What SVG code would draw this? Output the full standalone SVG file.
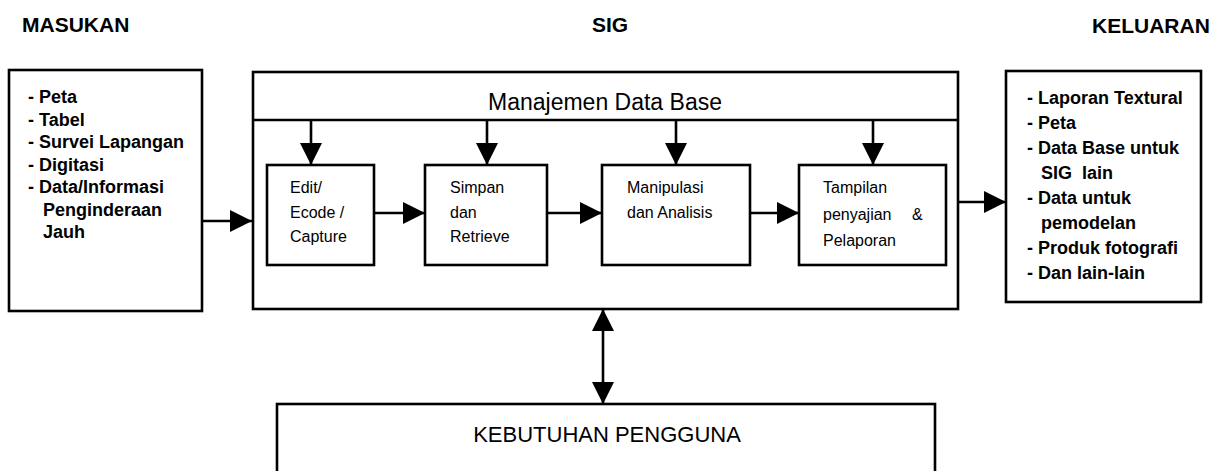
<svg xmlns="http://www.w3.org/2000/svg" width="1226" height="471" viewBox="0 0 1226 471">
<style>
.box{fill:#fff;stroke:#000;stroke-width:2.6}
.ln{stroke:#000;stroke-width:2.6;fill:none}
.head{font-family:"Liberation Sans",Arial,sans-serif;font-weight:bold;font-size:21px;fill:#000}
.list{font-family:"Liberation Sans",Arial,sans-serif;font-weight:bold;font-size:18px;fill:#000}
.inner{font-family:"Liberation Sans",Arial,sans-serif;font-size:16px;fill:#000}
.big{font-family:"Liberation Sans",Arial,sans-serif;font-size:23px;fill:#000}
.kb{font-family:"Liberation Sans",Arial,sans-serif;font-size:22px;fill:#000}
.ah{fill:#000}
</style>
<defs>
<marker id="arr" viewBox="0 0 22 22" refX="22" refY="11" markerWidth="22" markerHeight="22" markerUnits="userSpaceOnUse" orient="auto-start-reverse">
<path d="M0,0 L22,11 L0,22 z" class="ah"/>
</marker>
</defs>
<rect width="1226" height="471" fill="#fff"/>

<g id="headings">
<text class="head" x="22" y="32">MASUKAN</text>
<text class="head" x="610" y="32" text-anchor="middle">SIG</text>
<text class="head" x="1092" y="33">KELUARAN</text>
</g>

<g id="masukan">
<rect class="box" x="9" y="70" width="193" height="241"/>
<text class="list" x="28" y="103">- Peta</text>
<text class="list" x="28" y="125.5">- Tabel</text>
<text class="list" x="28" y="148">- Survei Lapangan</text>
<text class="list" x="28" y="170.5">- Digitasi</text>
<text class="list" x="28" y="193">- Data/Informasi</text>
<text class="list" x="43" y="215.5">Penginderaan</text>
<text class="list" x="43" y="238">Jauh</text>
</g>

<g id="sig">
<rect class="box" x="253" y="72" width="705" height="237"/>
<line class="ln" x1="253" y1="120" x2="958" y2="120"/>
<text class="big" x="605" y="110" text-anchor="middle">Manajemen Data Base</text>
</g>

<g id="edit">
<rect class="box" x="267" y="165" width="107" height="100"/>
<text class="inner" x="290" y="193">Edit/</text>
<text class="inner" x="290" y="218">Ecode /</text>
<text class="inner" x="290" y="242">Capture</text>
</g>

<g id="simpan">
<rect class="box" x="425" y="165" width="122" height="100"/>
<text class="inner" x="450" y="193">Simpan</text>
<text class="inner" x="450" y="218">dan</text>
<text class="inner" x="450" y="242">Retrieve</text>
</g>

<g id="manipulasi">
<rect class="box" x="602" y="165" width="148" height="100"/>
<text class="inner" x="627" y="193">Manipulasi</text>
<text class="inner" x="627" y="218">dan Analisis</text>
</g>

<g id="tampilan">
<rect class="box" x="799" y="165" width="147" height="100"/>
<text class="inner" x="823" y="193">Tampilan</text>
<text class="inner" x="823" y="220">penyajian <tspan x="912">&amp;</tspan></text>
<text class="inner" x="823" y="246">Pelaporan</text>
</g>

<g id="keluaran">
<rect class="box" x="1006" y="71" width="195" height="231"/>
<text class="list" x="1027" y="104">- Laporan Textural</text>
<text class="list" x="1027" y="129">- Peta</text>
<text class="list" x="1027" y="154">- Data Base untuk</text>
<text class="list" x="1041" y="179" xml:space="preserve">SIG  lain</text>
<text class="list" x="1027" y="204">- Data untuk</text>
<text class="list" x="1041" y="229">pemodelan</text>
<text class="list" x="1027" y="254">- Produk fotografi</text>
<text class="list" x="1027" y="279">- Dan lain-lain</text>
</g>

<g id="kebutuhan">
<rect class="box" x="277" y="404" width="658" height="80"/>
<text class="kb" x="607" y="442" text-anchor="middle">KEBUTUHAN PENGGUNA</text>
</g>

<g id="connectors">
<line class="ln" x1="202" y1="221" x2="252" y2="221" marker-end="url(#arr)"/>
<line class="ln" x1="374" y1="213" x2="425" y2="213" marker-end="url(#arr)"/>
<line class="ln" x1="547" y1="213" x2="602" y2="213" marker-end="url(#arr)"/>
<line class="ln" x1="750" y1="213" x2="799" y2="213" marker-end="url(#arr)"/>
<line class="ln" x1="958" y1="202" x2="1006" y2="202" marker-end="url(#arr)"/>
<line class="ln" x1="311" y1="120" x2="311" y2="165" marker-end="url(#arr)"/>
<line class="ln" x1="487" y1="120" x2="487" y2="165" marker-end="url(#arr)"/>
<line class="ln" x1="676" y1="120" x2="676" y2="165" marker-end="url(#arr)"/>
<line class="ln" x1="873" y1="120" x2="873" y2="165" marker-end="url(#arr)"/>
<line class="ln" x1="603" y1="309" x2="603" y2="404" marker-start="url(#arr)" marker-end="url(#arr)"/>
</g>
</svg>
